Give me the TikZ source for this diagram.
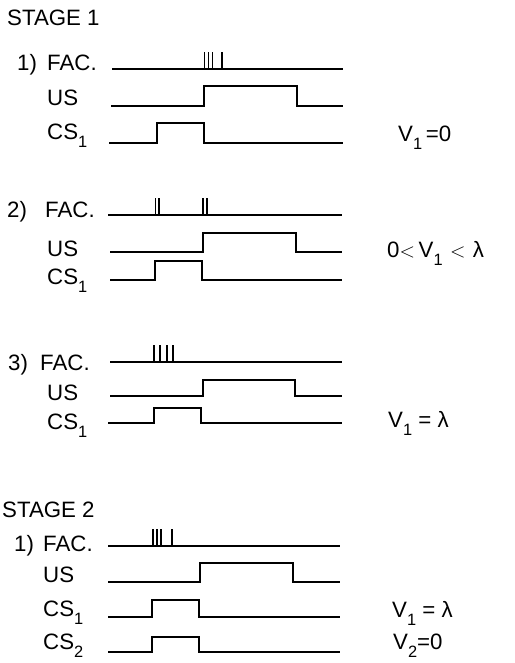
\documentclass[tikz,border=0pt]{standalone}
\usepackage{fontspec}
\setmainfont{Liberation Sans}
\usetikzlibrary{positioning}
\newcommand{\subd}[1]{\raisebox{-0.38em}{\fontsize{14}{15}\selectfont #1}}

\begin{document}
\begin{tikzpicture}[x=0.03cm, y=-0.03cm,
    lbl/.style={anchor=base west, inner sep=0pt, font=\fontsize{19}{21}\selectfont},
    sig/.style={line width=1.4pt, line join=miter},
    spike/.style={line width=1.2pt}]
    \useasboundingbox (0,0) rectangle (515,663);

    % Stage 1
    \node[lbl] (stage1) at (7,25) {STAGE 1};

    % Case 1: V1 = 0
    \node[lbl] (num1) at (17,70.5) {1)};
    \node[lbl] (fac1) at (47,70.5) {FAC.};
    \node[lbl] (us1) at (47,105) {US};
    \node[lbl] (cs1) at (47,139.5) {CS\subd{1}};
    \draw[sig] (112,69) -- (343,69);
    \foreach \x in {204.5,208.5,212.5,222}
        \draw[spike] (\x,69) -- (\x,52);
    \draw[sig] (111,106) -- (204,106) -- (204,86) -- (297,86) -- (297,106) -- (343,106);
    \draw[sig] (109,143) -- (157,143) -- (157,123) -- (204,123) -- (204,143) -- (343,143);
    \node[lbl] (v1) at (398,141) {V\subd{1}\,=0};

    % Case 2: 0 < V1 < lambda
    \node[lbl] (num2) at (7,217.5) {2)};
    \node[lbl] (fac2) at (45,217.5) {FAC.};
    \node[lbl] (us2) at (47,256.5) {US};
    \node[lbl] (cs2) at (47,284.5) {CS\subd{1}};
    \draw[sig] (108,215) -- (342,215);
    \foreach \x in {155.5,159,203,207}
        \draw[spike] (\x,215) -- (\x,198);
    \draw[sig] (110,252) -- (203,252) -- (203,233) -- (296,233) -- (296,252) -- (342,252);
    \draw[sig] (110,280) -- (155,280) -- (155,261) -- (202,261) -- (202,280) -- (342,280);
    \node[lbl] (v2) at (387,257) {0$<$\,V\subd{1}\,\,$<$\,\,λ};

    % Case 3: V1 = lambda
    \node[lbl] (num3) at (8,370.5) {3)};
    \node[lbl] (fac3) at (40,370.5) {FAC.};
    \node[lbl] (us3) at (47,400.5) {US};
    \node[lbl] (cs3) at (47,429.5) {CS\subd{1}};
    \draw[sig] (110,362) -- (342,362);
    \foreach \x in {154,160,167,173}
        \draw[spike] (\x,362) -- (\x,345);
    \draw[sig] (110,396) -- (203,396) -- (203,380) -- (295,380) -- (295,396) -- (342,396);
    \draw[sig] (108,423) -- (154,423) -- (154,408) -- (201,408) -- (201,423) -- (342,423);
    \node[lbl] (v3) at (388,427) {V\subd{1} = λ};

    % Stage 2
    \node[lbl] (stage2) at (2,517.5) {STAGE 2};

    % Case 1: two CS
    \node[lbl] (num4) at (14,551.5) {1)};
    \node[lbl] (fac4) at (43,551.5) {FAC.};
    \node[lbl] (us4) at (43,582.5) {US};
    \node[lbl] (cs4) at (43,616.5) {CS\subd{1}};
    \node[lbl] (cs5) at (43,649) {CS\subd{2}};
    \draw[sig] (108,546) -- (340,546);
    \foreach \x in {153,157,161,172}
        \draw[spike] (\x,546) -- (\x,529);
    \draw[sig] (108,582) -- (200,582) -- (200,563) -- (293,563) -- (293,582) -- (340,582);
    \draw[sig] (108,617) -- (152,617) -- (152,600) -- (199,600) -- (199,617) -- (340,617);
    \draw[sig] (108,652) -- (152,652) -- (152,637) -- (199,637) -- (199,652) -- (340,652);
    \node[lbl] (v4) at (392,617.5) {V\subd{1} = λ};
    \node[lbl] (v5) at (393,649) {V\subd{2}=0};
\end{tikzpicture}
\end{document}
